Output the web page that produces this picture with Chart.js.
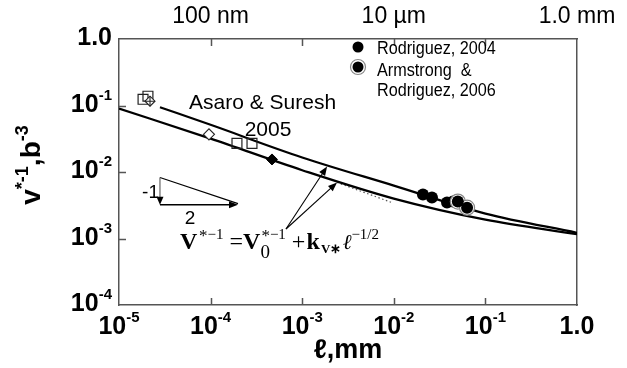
<!DOCTYPE html>
<html>
<head>
<meta charset="utf-8">
<script src="https://cdn.jsdelivr.net/npm/chart.js@4.4.0/dist/chart.umd.min.js"></script>
<style>
  html, body { margin: 0; padding: 0; background: #fff; }
  #wrap { width: 627px; height: 368px; }
</style>
</head>
<body>
<div id="wrap"><canvas id="c" width="627" height="368"></canvas></div>
<script>
// Grain size ℓ (mm) against inverse activation volume v*^-1 (b^-3)
const upperFitL = [2.8e-5, 1e-4, 1e-3, 1e-2, 1e-1, 1];
const upperFitV = [0.0942, 0.0512, 0.01656, 6.25e-3, 2.37e-3, 1.22e-3];
const lowerFitL = [1e-5, 1e-4, 1e-3, 1e-2, 1e-1, 1];
const lowerFitV = [0.0900, 0.0318, 0.01064, 3.98e-3, 1.92e-3, 1.16e-3];
const asymptoteL = [2.4e-3, 9.55e-3];
const asymptoteV = [6.95e-3, 3.47e-3];

const asaroSquareL = [1.83e-5, 2.07e-5, 1.94e-4, 2.83e-4];
const asaroSquareV = [0.124, 0.138, 0.0269, 0.0269];
const crossedDiamondL = [2.18e-5];
const crossedDiamondV = [0.116];
const openDiamondL = [9.6e-5];
const openDiamondV = [0.0368];
const filledDiamondL = [4.68e-4];
const filledDiamondV = [0.01545];
const rodriguez2004L = [0.0208, 0.0261, 0.0381, 0.0443];
const rodriguez2004V = [4.57e-3, 4.12e-3, 3.47e-3, 3.59e-3];
const armstrong2006L = [0.050, 0.0631];
const armstrong2006V = [3.59e-3, 2.91e-3];

// Axis ticks
const bottomTicks = [1e-5, 1e-4, 1e-3, 1e-2, 1e-1, 1];
const bottomTickLabels = [['10', '-5'], ['10', '-4'], ['10', '-3'], ['10', '-2'], ['10', '-1'], ['1.0', '']];
const leftTicks = [1, 1e-1, 1e-2, 1e-3, 1e-4];
const leftTickLabels = [['1.0', ''], ['10', '-1'], ['10', '-2'], ['10', '-3'], ['10', '-4']];
const topTicks = [1e-4, 1e-3, 1e-2, 1e-1, 1];
const topTickLabels = ['100 nm', '', '10 \u00b5m', '', '1.0 mm'];

const pts = (xs, ys) => xs.map((v, i) => ({ x: v, y: ys[i] }));

const SANS = '"Liberation Sans", Arial, Helvetica, sans-serif';
const SERIF = '"Liberation Serif", "Times New Roman", serif';

function drawPow(ctx, base, exp, px, py, align) {
  ctx.font = 'bold 25px ' + SANS;
  const wb = ctx.measureText(base).width;
  ctx.font = 'bold 15px ' + SANS;
  const we = exp ? ctx.measureText(exp).width : 0;
  const w = wb + we;
  let x0 = px - w / 2;
  if (align === 'right') x0 = px - w;
  ctx.textAlign = 'left';
  ctx.textBaseline = 'alphabetic';
  ctx.font = 'bold 25px ' + SANS;
  ctx.fillText(base, x0, py + 9);
  if (exp) {
    ctx.font = 'bold 15px ' + SANS;
    ctx.fillText(exp, x0 + wb, py - 3);
  }
}

function arrow(ctx, x1, y1, x2, y2, head, wid) {
  const ang = Math.atan2(y2 - y1, x2 - x1);
  ctx.beginPath();
  ctx.moveTo(x1, y1);
  ctx.lineTo(x2 - Math.cos(ang) * head * 0.8, y2 - Math.sin(ang) * head * 0.8);
  ctx.stroke();
  ctx.beginPath();
  ctx.moveTo(x2, y2);
  ctx.lineTo(x2 - head * Math.cos(ang) + wid * Math.sin(ang), y2 - head * Math.sin(ang) - wid * Math.cos(ang));
  ctx.lineTo(x2 - head * Math.cos(ang) - wid * Math.sin(ang), y2 - head * Math.sin(ang) + wid * Math.cos(ang));
  ctx.closePath();
  ctx.fill();
}

// Writes a run of [text, font, dy] pieces left to right from (x, y)
function drawRun(ctx, parts, x, y) {
  ctx.textAlign = 'left';
  ctx.textBaseline = 'alphabetic';
  for (const p of parts) {
    ctx.font = p[1];
    ctx.fillText(p[0], x, y + p[2]);
    x += ctx.measureText(p[0]).width;
  }
  return x;
}

const decorations = {
  id: 'decorations',
  afterDraw(chart) {
    const { ctx, chartArea: a, scales } = chart;
    const X = v => scales.x.getPixelForValue(v);
    const Y = v => scales.y.getPixelForValue(v);
    ctx.save();
    ctx.fillStyle = '#000';

    // inward tick marks
    ctx.strokeStyle = '#555';
    ctx.lineWidth = 1.5;
    ctx.beginPath();
    bottomTicks.slice(1, -1).forEach(v => {
      const px = Math.round(X(v)) + 0.5;
      ctx.moveTo(px, a.bottom); ctx.lineTo(px, a.bottom - 7);
      ctx.moveTo(px, a.top); ctx.lineTo(px, a.top + 7);
    });
    leftTicks.slice(1, -1).forEach(v => {
      const py = Math.round(Y(v)) + 0.5;
      ctx.moveTo(a.left, py); ctx.lineTo(a.left + 7, py);
    });
    ctx.stroke();

    // tick labels
    bottomTicks.forEach((v, i) => drawPow(ctx, bottomTickLabels[i][0], bottomTickLabels[i][1], X(v), a.bottom + 20, 'center'));
    leftTicks.forEach((v, i) => drawPow(ctx, leftTickLabels[i][0], leftTickLabels[i][1], a.left - 7, Y(v) - 3, 'right'));
    ctx.font = '23px ' + SANS;
    ctx.textAlign = 'center';
    ctx.textBaseline = 'middle';
    topTicks.forEach((v, i) => { if (topTickLabels[i]) ctx.fillText(topTickLabels[i], X(v), 17); });

    // axis titles
    ctx.font = 'bold 27px ' + SANS;
    ctx.textAlign = 'center';
    ctx.textBaseline = 'middle';
    ctx.fillText('\u2113,mm', (a.left + a.right) / 2, 351);

    ctx.save();
    ctx.translate(31, 165);
    ctx.rotate(-Math.PI / 2);
    const ytParts = [['v', 'bold 28px ' + SANS, 0], ['*-1', 'bold 18px ' + SANS, -12], [',b', 'bold 28px ' + SANS, 0], ['-3', 'bold 18px ' + SANS, -12]];
    let tw = 0;
    ytParts.forEach(p => { ctx.font = p[1]; tw += ctx.measureText(p[0]).width; });
    drawRun(ctx, ytParts, -tw / 2, 9);
    ctx.restore();

    // legend
    ctx.textAlign = 'left';
    ctx.textBaseline = 'middle';
    ctx.beginPath(); ctx.arc(358, 47, 5.5, 0, Math.PI * 2); ctx.fill();
    ctx.beginPath(); ctx.arc(358, 67, 7.5, 0, Math.PI * 2); ctx.fillStyle = '#fff'; ctx.fill();
    ctx.strokeStyle = '#888'; ctx.lineWidth = 1.2; ctx.stroke();
    ctx.fillStyle = '#000';
    ctx.beginPath(); ctx.arc(358, 67, 5.5, 0, Math.PI * 2); ctx.fill();
    ctx.save();
    ctx.translate(377, 0);
    ctx.scale(0.9, 1);
    ctx.font = '18px ' + SANS;
    ctx.fillText('Rodriguez, 2004', 0, 49);
    ctx.fillText('Armstrong  &', 0, 71);
    ctx.fillText('Rodriguez, 2006', 0, 91);
    ctx.restore();

    // Asaro & Suresh label
    ctx.font = '21px ' + SANS;
    ctx.textAlign = 'left';
    ctx.fillText('Asaro & Suresh', 189, 103);
    ctx.textAlign = 'center';
    ctx.fillText('2005', 268, 130);

    // slope triangle (-1 over 2)
    ctx.strokeStyle = '#000';
    ctx.lineWidth = 1.2;
    const tx = X(2.8e-5), tTop = Y(8.26e-3), tBot = Y(3.23e-3), tRight = X(1.99e-4);
    ctx.beginPath(); ctx.moveTo(tx, tTop); ctx.lineTo(tRight, tBot - 1); ctx.stroke();
    ctx.strokeStyle = '#666';
    arrow(ctx, tx, tTop, tx, tBot, 8, 3.5);
    ctx.strokeStyle = '#000';
    ctx.lineWidth = 1.5;
    arrow(ctx, tx, tBot, tRight, tBot, 9, 3.5);
    ctx.font = '19px ' + SANS;
    ctx.textAlign = 'right';
    ctx.textBaseline = 'middle';
    ctx.fillText('-1', tx - 1, tBot - 12);
    ctx.textAlign = 'center';
    ctx.fillText('2', tx + 30, tBot + 14);

    // arrows from the equation to both fits
    ctx.lineWidth = 1.1;
    const ex = 286, ey = 229;
    arrow(ctx, ex, ey, X(1.87e-3), Y(0.0121), 9, 3.5);
    arrow(ctx, ex, ey, X(2.4e-3), Y(6.95e-3), 9, 3.5);

    // equation V*^-1 = V0*^-1 + k_V* ℓ^-1/2
    const B = 'bold 24px ' + SERIF, R = '24px ' + SERIF, S = '15px ' + SERIF, ST = '17px ' + SERIF;
    let x0 = 180, base = 249;
    x0 = drawRun(ctx, [['V', B, 0], [' ', '7px ' + SERIF, 0], ['*', ST, -8], ['\u22121', S, -10]], x0, base);
    x0 = drawRun(ctx, [[' =', R, 0], ['V', B, 0]], x0, base);
    drawRun(ctx, [['0', '19px ' + SERIF, 9]], x0, base);
    x0 = drawRun(ctx, [['*', ST, -8], ['\u22121', S, -10]], x0 + 1, base);
    x0 = drawRun(ctx, [[' +', R, 0], [' ', '4px ' + SERIF, 0], ['k', B, 0], [' ', '5px ' + SERIF, 0], ['V\u2217', 'bold 13px ' + SERIF, 4], [' ', '5px ' + SERIF, 0], ['\u2113', 'italic 21px ' + SERIF, 0], ['\u22121/2', S, -10]], x0, base);

    ctx.restore();
  }
};

const line = (data, extra) => Object.assign({
  type: 'scatter', data, showLine: true, pointRadius: 0, borderColor: '#000',
  borderWidth: 2.2, fill: false, cubicInterpolationMode: 'monotone'
}, extra);

new Chart(document.getElementById('c'), {
  type: 'scatter',
  data: {
    datasets: [
      line(pts(upperFitL, upperFitV), { order: 10 }),
      line(pts(lowerFitL, lowerFitV), { order: 10 }),
      line(pts(asymptoteL, asymptoteV), { order: 11, borderColor: '#555', borderWidth: 1.2, borderDash: [1.5, 2.5] }),
      { data: pts(asaroSquareL, asaroSquareV), pointStyle: 'rect', pointRadius: 7, backgroundColor: 'rgba(255,255,255,0)', borderColor: '#222', borderWidth: 1.2, order: 3 },
      { data: pts(crossedDiamondL, crossedDiamondV), pointStyle: 'rectRot', pointRadius: 5, backgroundColor: '#fff', borderColor: '#222', borderWidth: 1.1, order: 2 },
      { data: pts(crossedDiamondL, crossedDiamondV), pointStyle: 'cross', pointRadius: 5, borderColor: '#222', borderWidth: 1.1, order: 1 },
      { data: pts(openDiamondL, openDiamondV), pointStyle: 'rectRot', pointRadius: 5.5, backgroundColor: '#fff', borderColor: '#222', borderWidth: 1.1, order: 3 },
      { data: pts(filledDiamondL, filledDiamondV), pointStyle: 'rectRot', pointRadius: 5.5, backgroundColor: '#000', borderColor: '#000', borderWidth: 1, order: 3 },
      { data: pts(rodriguez2004L, rodriguez2004V), pointStyle: 'circle', pointRadius: 6, backgroundColor: '#000', borderColor: '#000', borderWidth: 0, order: 4 },
      { data: pts(armstrong2006L, armstrong2006V), pointStyle: 'circle', pointRadius: 7.5, backgroundColor: '#fff', borderColor: '#888', borderWidth: 1.2, order: 2 },
      { data: pts(armstrong2006L, armstrong2006V), pointStyle: 'circle', pointRadius: 6, backgroundColor: '#000', borderColor: '#000', borderWidth: 0, order: 1 }
    ]
  },
  options: {
    responsive: false,
    animation: false,
    devicePixelRatio: 1,
    layout: { padding: 0 },
    plugins: { legend: { display: false }, tooltip: { enabled: false } },
    elements: { point: { hoverRadius: 0 } },
    scales: {
      x: {
        type: 'logarithmic', position: 'bottom', min: 1e-5, max: 1,
        ticks: { display: false }, grid: { display: false, drawTicks: false },
        border: { display: true, color: '#555', width: 1.5 },
        afterFit: s => { s.height = 63; }
      },
      x2: {
        type: 'logarithmic', position: 'top', min: 1e-5, max: 1,
        ticks: { display: false }, grid: { display: false, drawTicks: false },
        border: { display: true, color: '#555', width: 1.5 },
        afterFit: s => { s.height = 39; }
      },
      y: {
        type: 'logarithmic', position: 'left', min: 1e-4, max: 1,
        ticks: { display: false }, grid: { display: false, drawTicks: false },
        border: { display: true, color: '#555', width: 1.5 },
        afterFit: s => { s.width = 119; }
      },
      y2: {
        type: 'linear', position: 'right', min: 0, max: 1,
        ticks: { display: false }, grid: { display: false, drawTicks: false },
        border: { display: true, color: '#555', width: 1.5 },
        afterFit: s => { s.width = 50; }
      }
    }
  },
  plugins: [decorations]
});
</script>
</body>
</html>
